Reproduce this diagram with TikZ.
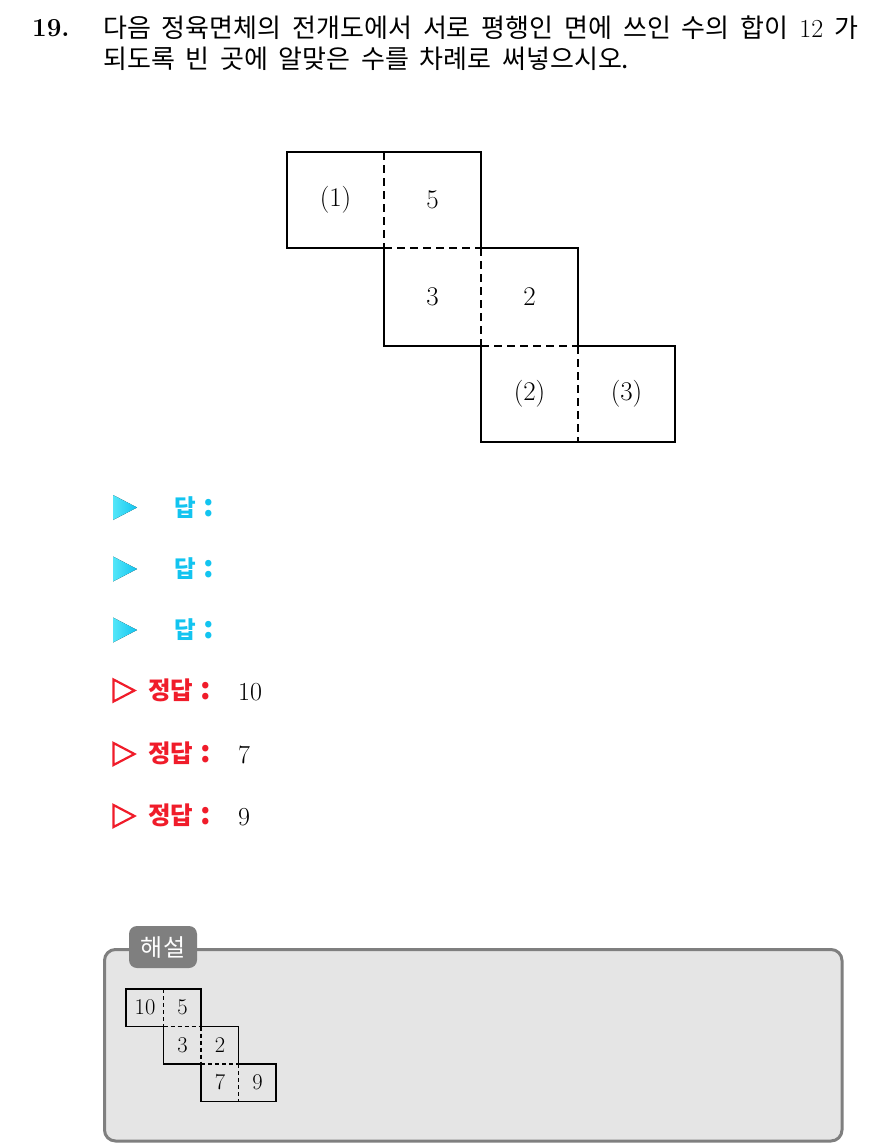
\documentclass[tikz,border=0pt]{standalone}
\usepackage{fontspec}
\newfontfamily\kr{Noto Sans CJK KR}
\newfontfamily\krb{Noto Sans CJK KR Black}
\definecolor{ansblue}{HTML}{12C4F0}
\definecolor{ansred}{HTML}{F01C2A}
\definecolor{boxgray}{HTML}{7F7F7F}
\definecolor{boxfill}{HTML}{E5E5E5}
\newcommand{\bigcolon}{{\fontsize{30}{30}\selectfont :}}
\begin{document}
\begin{tikzpicture}[x=1pt,y=-1pt,
  netline/.style={line width=1.4pt,black},
  netdash/.style={line width=1.3pt,black,dash pattern=on 8pt off 5pt},
  snetline/.style={line width=1.2pt,black},
  snetdash/.style={line width=1.1pt,black,dash pattern=on 4pt off 3pt},
  cellnum/.style={font=\fontsize{27}{27}\selectfont,inner sep=0pt},
  scellnum/.style={font=\fontsize{22.5}{22.5}\selectfont,inner sep=0pt},
  qtext/.style={anchor=base west,inner sep=0pt,font=\fontsize{26}{26}\selectfont\kr},
  bluetri/.style={left color=ansblue!60!cyan!70!white,right color=ansblue,draw=none},
  redtri/.style={draw=ansred,line width=2.2pt,fill=none,line join=miter},
  bluelab/.style={anchor=base west,inner sep=0pt,text=ansblue,font=\fontsize{23.5}{23.5}\selectfont\krb},
  redlab/.style={anchor=base west,inner sep=0pt,text=ansred,font=\fontsize{24.5}{24.5}\selectfont\krb},
  ansnum/.style={anchor=base west,inner sep=0pt,font=\fontsize{26}{26}\selectfont}
]
\useasboundingbox[fill=white] (0,0) rectangle (884,1145);

% question
\node[anchor=base west,inner sep=0pt,font=\fontsize{26}{26}\selectfont\bfseries] (qnum) at (32,37) {19.};
\node[qtext] (q1) at (103,38) {\makebox[755pt][s]{다음 정육면체의 전개도에서 서로 평행인 면에 쓰인 수의 합이 {\rmfamily\fontsize{26}{26}\selectfont 12} 가}};
\node[qtext] (q2) at (103,69) {\makebox[526pt][s]{되도록 빈 곳에 알맞은 수를 차례로 써넣으시오.}};

% main net
\draw[netline] (287,152) -- (481,152) -- (481,248) -- (578,248) -- (578,346) -- (675,346)
  -- (675,442) -- (481,442) -- (481,346) -- (384,346) -- (384,248) -- (287,248) -- cycle;
\draw[netdash] (384,152) -- (384,248);
\draw[netdash] (384,248) -- (481,248);
\draw[netdash] (481,248) -- (481,346);
\draw[netdash] (481,346) -- (578,346);
\draw[netdash] (578,346) -- (578,442);
\node[cellnum] (c1) at (335.5,200) {(1)};
\node[cellnum] (c5) at (432.5,200) {5};
\node[cellnum] (c3) at (432.5,297) {3};
\node[cellnum] (c2) at (529.5,297) {2};
\node[cellnum] (cq2) at (529.5,394) {(2)};
\node[cellnum] (cq3) at (626.5,394) {(3)};

% answers (blue)
\foreach \yy/\nm in {507.5/a,569/b,630/c}{
  \fill[bluetri] (113,\yy-12.5) -- (137,\yy) -- (113,\yy+12.5) -- cycle;
  \node[bluelab] (blab\nm) at (174,\yy+8.5) {답\hspace{8pt}\bigcolon};
}
% answers (red)
\foreach \yy/\val/\nm in {690.5/10/a,754/7/b,816/9/c}{
  \draw[redtri] (113.5,\yy-11) -- (134.5,\yy) -- (113.5,\yy+11) -- cycle;
  \node[redlab] (rlab\nm) at (148,\yy+8.5) {정답\hspace{7pt}\bigcolon};
  \node[ansnum] (rnum\nm) at (238,\yy+9.5) {\val};
}

% solution box
\draw[line width=3pt,draw=boxgray,fill=boxfill,rounded corners=11pt] (104.5,949.5) rectangle (842,1141);
\node[fill=boxgray,rounded corners=8pt,minimum width=68pt,minimum height=42pt,inner sep=0pt,
  text=white,font=\fontsize{24}{24}\selectfont\kr] (tag) at (163,947) {해설};

% small net
\draw[snetline] (126,989) -- (201,989) -- (201,1026.5) -- (238.5,1026.5) -- (238.5,1064) -- (276,1064)
  -- (276,1101.5) -- (201,1101.5) -- (201,1064) -- (163.5,1064) -- (163.5,1026.5) -- (126,1026.5) -- cycle;
\draw[snetdash] (163.5,989) -- (163.5,1026.5);
\draw[snetdash] (163.5,1026.5) -- (201,1026.5);
\draw[snetdash] (201,1026.5) -- (201,1064);
\draw[snetdash] (201,1064) -- (238.5,1064);
\draw[snetdash] (238.5,1064) -- (238.5,1101.5);
\node[scellnum] (s10) at (145,1007.5) {10};
\node[scellnum] (s5) at (182.5,1007.5) {5};
\node[scellnum] (s3) at (182.5,1045) {3};
\node[scellnum] (s2) at (220,1045) {2};
\node[scellnum] (s7) at (220,1082.5) {7};
\node[scellnum] (s9) at (257.5,1082.5) {9};
\end{tikzpicture}
\end{document}
